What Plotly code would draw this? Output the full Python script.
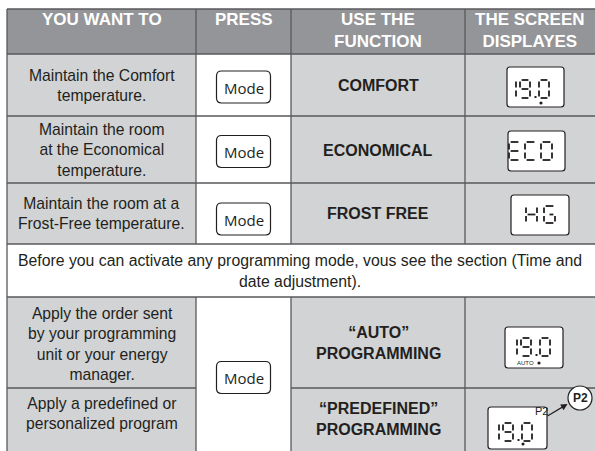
import plotly.graph_objects as go

# ---------------- data (table content) ----------------
HEADERS = ["YOU WANT TO", "PRESS", "USE THE<br>FUNCTION", "THE SCREEN<br>DISPLAYES"]
WANT = [
    "Maintain the Comfort<br>temperature.",
    "Maintain the room<br>at the Economical<br>temperature.",
    "Maintain the room at a<br>Frost-Free temperature.",
    "Apply the order sent<br>by your programming<br>unit or your energy<br>manager.",
    "Apply a predefined or<br>personalized program",
]
PRESS = ["Mode", "Mode", "Mode", "Mode"]
FUNCTIONS = ["COMFORT", "ECONOMICAL", "FROST FREE",
             "“AUTO”<br>PROGRAMMING", "“PREDEFINED”<br>PROGRAMMING"]
DISPLAYS = ["19.0", "ECO", "HG", "19.0", "19.0"]
DISPLAY_TAGS = ["", "", "", "AUTO", "P2"]
CALLOUT = "P2"
NOTE = ("Before you can activate any programming mode, vous see the section (Time and"
        "<br>date adjustment).")

# ---------------- layout constants ----------------
W, H = 595, 451
FONT = "Liberation Sans, Arial, Helvetica, sans-serif"
DARK = "#231f20"
LINE = "#58595b"
HEAD_FILL = "#939598"
CELL_FILL = "#d1d3d4"

COLS = [7, 196, 291, 465, 600]
TOP, HEAD_BOT = 9, 54
ROWS_A = [(54, 116), (116, 183), (183, 244)]
NOTE_ROW = (244, 297)
ROWS_B = [(297, 388), (388, 470)]

shapes = []
annotations = []


def rect(x0, y0, x1, y1, fill, line=None, lw=0):
    shapes.append(dict(type="rect", xref="x", yref="y", x0=x0, y0=y0, x1=x1, y1=y1,
                       fillcolor=fill, line=dict(color=line or fill, width=lw),
                       layer="below"))


def hline(y, x0, x1, color=LINE, w=1.3):
    shapes.append(dict(type="line", xref="x", yref="y", x0=x0, x1=x1, y0=y, y1=y,
                       line=dict(color=color, width=w)))


def vline(x, y0, y1, color=LINE, w=1.3):
    shapes.append(dict(type="line", xref="x", yref="y", x0=x, x1=x, y0=y0, y1=y1,
                       line=dict(color=color, width=w)))


def rrect(x0, y0, x1, y1, r, fill="white", color=DARK, w=1.2):
    p = (f"M {x0+r},{y0} L {x1-r},{y0} Q {x1},{y0} {x1},{y0+r} "
         f"L {x1},{y1-r} Q {x1},{y1} {x1-r},{y1} L {x0+r},{y1} "
         f"Q {x0},{y1} {x0},{y1-r} L {x0},{y0+r} Q {x0},{y0} {x0+r},{y0} Z")
    shapes.append(dict(type="path", xref="x", yref="y", path=p, fillcolor=fill,
                       line=dict(color=color, width=w)))


def text(x, y, s, size, color=DARK, bold=False, family=FONT, xanchor="center"):
    if bold:
        s = f"<b>{s}</b>"
    annotations.append(dict(x=x, y=y, xref="x", yref="y", text=s, showarrow=False,
                            xanchor=xanchor, yanchor="middle",
                            font=dict(size=size, color=color, family=family)))


# 7-segment rendering
SEGS = {
    "0": "abcdef", "9": "abcdfg", "E": "adefg", "C": "adef",
    "O": "abcdef", "H": "bcefg", "G": "acdefG",
}


def seg_lines(x0, y0, w, h, segs, g=1.6, lw=1.8):
    m = y0 + h / 2
    coords = {
        "a": (x0 + g, y0, x0 + w - g, y0),
        "b": (x0 + w, y0 + g, x0 + w, m - g),
        "c": (x0 + w, m + g, x0 + w, y0 + h - g),
        "d": (x0 + g, y0 + h, x0 + w - g, y0 + h),
        "e": (x0, m + g, x0, y0 + h - g),
        "f": (x0, y0 + g, x0, m - g),
        "g": (x0 + g, m, x0 + w - g, m),
        "G": (x0 + w / 2, m, x0 + w - g, m),
    }
    for s in segs:
        a, b, c, d = coords[s]
        shapes.append(dict(type="line", xref="x", yref="y", x0=a, y0=b, x1=c, y1=d,
                           line=dict(color=DARK, width=lw)))


def lcd(s, x, y, w=10, h=18, adv=14):
    cur = x
    for ch in s:
        if ch == "1":
            seg_lines(cur - w + 2, y, w, h, "bc")
            cur += 6
        elif ch == ".":
            shapes.append(dict(type="rect", xref="x", yref="y", x0=cur + 0.5, x1=cur + 2.5,
                               y0=y + h - 2, y1=y + h, fillcolor=DARK, line=dict(width=0)))
            cur += 5
        else:
            seg_lines(cur, y, w, h, SEGS[ch])
            cur += adv


def dot(x, y, r=1.6):
    shapes.append(dict(type="circle", xref="x", yref="y", x0=x - r, x1=x + r,
                       y0=y - r, y1=y + r, fillcolor=DARK, line=dict(width=0)))


# ---------------- backgrounds ----------------
rect(COLS[0], TOP, COLS[4], HEAD_BOT, HEAD_FILL)
for (y0, y1) in ROWS_A + ROWS_B:
    rect(COLS[0], y0, COLS[1], y1, CELL_FILL)
    rect(COLS[1], y0, COLS[2], y1, "white")
    rect(COLS[2], y0, COLS[4], y1, CELL_FILL)
rect(COLS[0], NOTE_ROW[0], COLS[4], NOTE_ROW[1], "white")

# ---------------- grid ----------------
for y in [TOP, HEAD_BOT, 116, 183, 244, 297]:
    hline(y, COLS[0], COLS[4])
hline(388, COLS[0], COLS[1])
hline(388, COLS[2], COLS[4])
vline(COLS[0], TOP, H + 5)
for x in COLS[1:4]:
    vline(x, TOP, 244)
    vline(x, 297, H + 5)

# ---------------- header text ----------------
col_c = [(COLS[0] + COLS[1]) / 2, (COLS[1] + COLS[2]) / 2, (COLS[2] + COLS[3]) / 2, 530]
head_y = [19.5, 19.5, 30.5, 30.5]
for cx, hy, ht in zip(col_c, head_y, HEADERS):
    text(cx, hy, ht, 17, color="white", bold=True)

# ---------------- body text ----------------
want_y = [85.5, 149.5, 213.5, 344, 413.5]
for wy, wt in zip(want_y, WANT):
    text(col_c[0], wy, wt, 15.7)

func_y = [85.5, 150, 213.5, 342.5, 418.5]
for fy, ft in zip(func_y, FUNCTIONS):
    text(col_c[2], fy, ft, 16, bold=True)

# Mode buttons
mode_y = [87, 151.5, 219, 377.5]
for my, mt in zip(mode_y, PRESS):
    rrect(col_c[1] - 27, my - 16, col_c[1] + 27, my + 16, 5)
    text(col_c[1], my + 0.5, mt, 15, family="Open Sans, Noto Sans, sans-serif")

# note row
text(300, 270.5, NOTE, 15.8)

# ---------------- screen displays ----------------
BOXES = [(507, 67, 564, 107), (508, 131, 565, 171), (511, 195, 569, 235),
         (505, 327, 563, 368), (488, 407, 547, 449)]
ORIGINS = [(514, 80), (509, 142), (526, 206), (515, 338), (497, 423)]
for (bx0, by0, bx1, by1), (ox, oy), disp in zip(BOXES, ORIGINS, DISPLAYS):
    rrect(bx0, by0, bx1, by1, 3, w=1.2)
    if disp == "ECO":
        lcd(disp, ox, oy, w=11, h=18, adv=16)
    elif disp == "HG":
        lcd(disp, ox, oy, w=11, h=17, adv=18)
    else:
        lcd(disp, ox, oy)

# indicators under digits
dot(541, 103)
dot(539, 363)
text(525, 363, DISPLAY_TAGS[3], 6)
dot(523, 444)
text(541, 411, DISPLAY_TAGS[4], 11)

# P2 callout
shapes.append(dict(type="circle", xref="x", yref="y", x0=568, x1=592, y0=386, y1=410,
                   fillcolor="white", line=dict(color=DARK, width=1.2)))
text(580, 398, CALLOUT, 12, bold=True)
annotations.append(dict(x=567.5, y=404, ax=546, ay=417, xref="x", yref="y",
                        axref="x", ayref="y", text="", showarrow=True,
                        arrowhead=2, arrowsize=1.1, arrowwidth=1.2, arrowcolor=DARK))

fig = go.Figure()
fig.update_layout(
    width=W, height=H, margin=dict(l=0, r=0, t=0, b=0),
    paper_bgcolor="white", plot_bgcolor="white",
    xaxis=dict(range=[0, W], visible=False, fixedrange=True),
    yaxis=dict(range=[H, 0], visible=False, fixedrange=True),
    shapes=shapes, annotations=annotations, showlegend=False,
)
fig.write_html(
    "out.html",
    config={"displayModeBar": False, "staticPlot": True},
    post_script="document.body.style.margin='0px';document.body.style.overflow='hidden';",
)
